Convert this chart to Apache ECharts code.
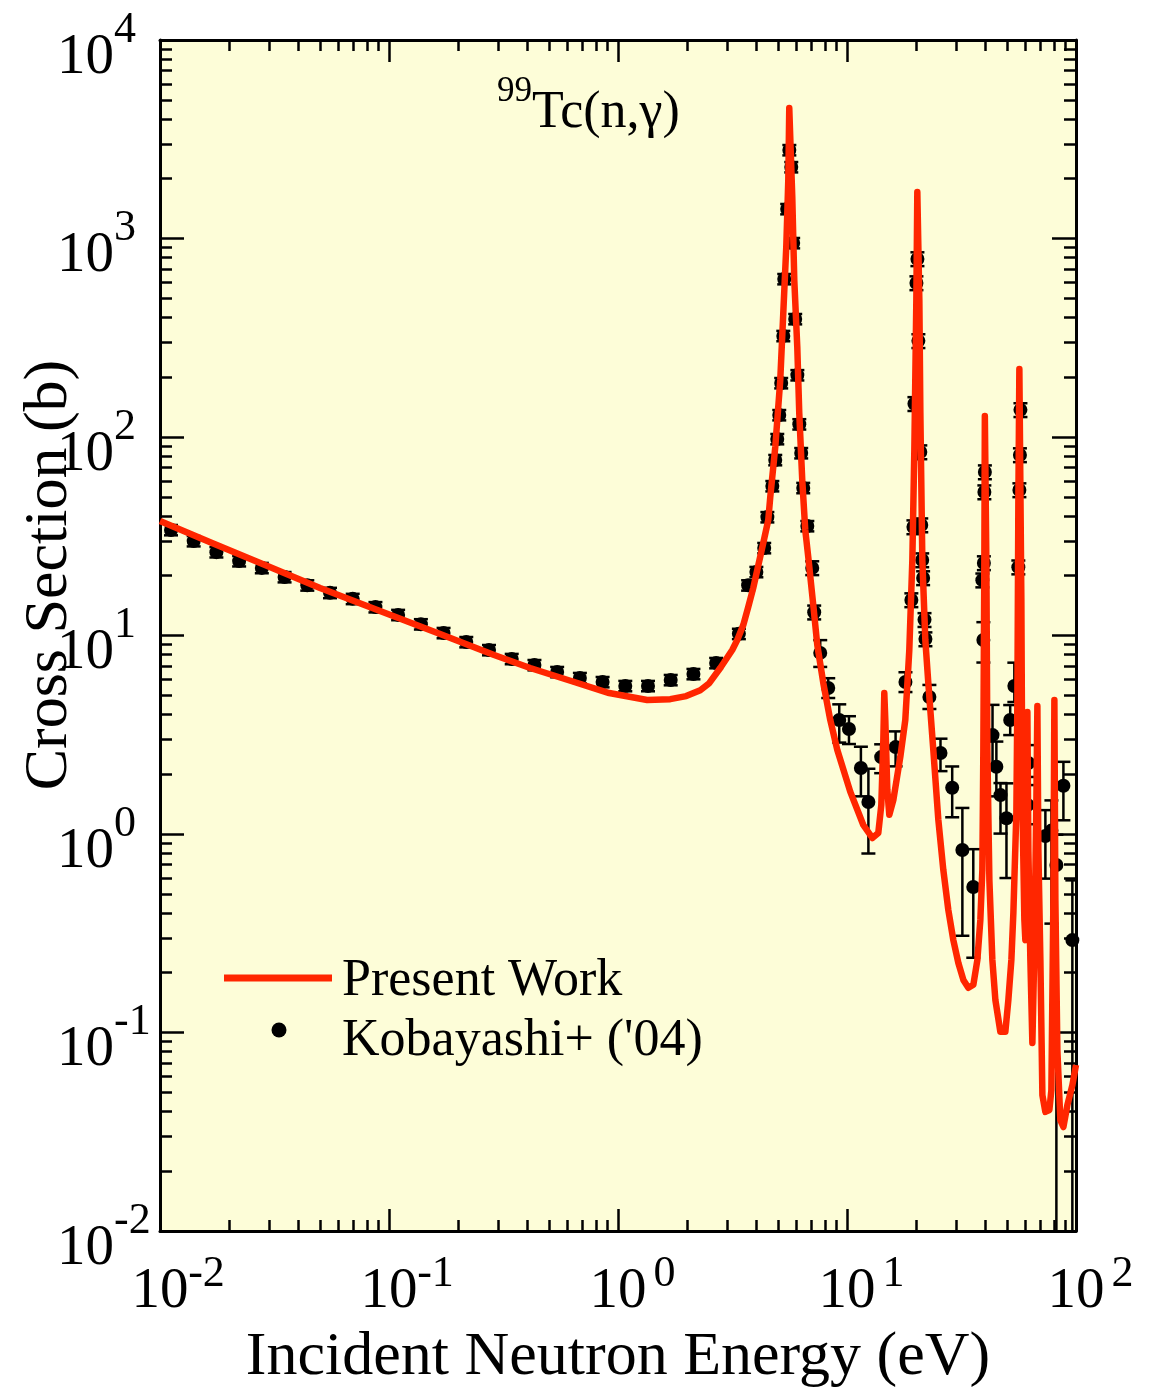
<!DOCTYPE html>
<html><head><meta charset="utf-8">
<script src="https://cdn.jsdelivr.net/npm/echarts@6/dist/echarts.min.js"></script>
<style>html,body{margin:0;padding:0;background:#fff}#c{width:1151px;height:1389px}</style>
</head><body><div id="c"></div>
<script>
const FONT = "'Liberation Serif','Times New Roman',serif";

// Present Work (evaluated curve): energy (eV) and cross section (b)
const lineE = [0.0100,0.01687,0.02875,0.0500,0.0914,0.1672,0.2878,0.4135,0.6245,0.9152,
1.341,1.691,1.986,2.287,2.503,2.796,3.154,3.317,3.524,3.706,
3.896,4.056,4.309,4.531,4.623,4.862,5.112,5.269,5.430,5.541,
5.596,5.653,5.768,5.886,6.066,6.188,6.377,6.573,6.774,7.124,
7.417,7.880,8.453,9.072,10.34,11.78,12.90,13.70,14.12,14.41,
14.55,14.70,15.00,15.30,15.93,17.09,17.97,18.71,19.29,19.68,
20.08,20.28,20.49,20.70,20.91,21.33,21.98,22.65,23.82,25.05,
26.34,27.70,29.13,30.64,32.22,33.88,35.63,37.09,38.22,39.00,
39.39,39.79,39.99,40.39,40.60,41.01,41.85,43.13,44.45,46.74,
49.15,50.66,52.21,53.27,54.90,55.46,56.02,56.58,57.15,57.73,
58.31,59.50,60.10,60.71,61.33,61.94,63.20,64.49,65.80,67.14,
67.82,68.50,69.90,71.32,73.50,76.52,78.07,79.66,80.46,81.28,
82.92,85.44,88.10,91.70,96.45,100];
const lineS = [37.75,29.24,22.66,17.35,13.29,10.18,7.98,6.86,5.90,5.13,
4.73,4.78,4.95,5.30,5.75,6.86,8.45,9.49,11.29,13.92,
17.35,21.38,29.24,38.19,49.86,89.0,193.8,421,906,1971,
4544,4544,1619,618,284,132,60.7,34.0,24.86,14.25,
8.96,5.76,3.75,2.65,1.63,1.11,0.955,1.012,1.40,2.98,
5.13,3.75,1.67,1.25,1.48,2.44,3.75,8.45,24.0,86.0,
490,1715,1715,490,132,24.0,9.49,5.76,2.65,1.18,
0.659,0.414,0.292,0.224,0.184,0.168,0.174,0.232,0.369,0.659,
2.65,24.0,127.6,127.6,24.0,2.65,0.587,0.232,0.146,0.101,
0.101,0.146,0.232,0.400,1.28,4.73,48.2,220,220,15.1,
1.48,0.369,0.292,0.831,4.12,0.831,0.232,0.0886,0.260,1.48,
4.41,0.831,0.232,0.0484,0.0398,0.0407,0.0513,0.465,4.73,0.465,
0.0816,0.0362,0.0334,0.0431,0.0544,0.0686];

// Kobayashi+ ('04): energy (eV), cross section (b), upper / lower error (%)
const expE = [0.01117,0.01403,0.01763,0.02216,0.02784,0.03499,0.04397,0.05525,0.06943,0.08725,
0.1096,0.1378,0.1731,0.2175,0.2734,0.3435,0.4316,0.5424,0.6816,0.8565,
1.076,1.352,1.699,2.135,2.683,3.372,
3.70,4.02,4.35,4.49,4.72,4.86,4.96,5.06,5.16,5.27,
5.32,5.48,5.60,5.71,5.82,5.94,6.07,6.19,6.31,6.44,
6.71,7.05,7.19,7.64,8.28,9.25,10.2,11.5,12.4,14.1,
16.3,18.0,19.1,19.5,19.7,20.1,20.3,20.5,20.9,21.1,
21.3,21.5,21.8,22.0,22.9,25.6,28.8,31.9,35.6,39.0,
39.4,39.6,39.8,40.0,43.2,44.9,46.8,49.7,51.6,53.8,
56.0,56.6,56.9,57.2,61.4,61.9,73.5,78.1,82.1,88.1,
96.4];
const expS = [34.0,29.9,26.3,23.7,21.9,19.7,17.9,16.4,15.3,13.9,
12.7,11.4,10.3,9.27,8.45,7.62,7.10,6.55,6.11,5.83,
5.57,5.57,5.97,6.40,7.27,10.2,
17.9,20.9,27.6,39.5,56.6,76.6,97.7,129,187,323,
625,1408,2790,2290,949,393,205,116,83.0,55.4,
35.6,21.9,13.1,8.17,5.44,3.75,3.38,2.15,1.45,2.44,
2.74,5.83,15.1,35.2,147,597,789,305,84.0,36.0,
24.0,19.5,12.0,9.60,4.90,2.56,1.71,0.830,0.541,19.0,
9.49,23.2,52.8,66.6,3.15,2.18,1.57,1.20,3.75,5.57,
22.1,54.1,81.2,137,1.40,2.28,0.977,1.04,0.698,1.75,
0.292];
const expUp = [6,6,6,6,6,6,6,6,6,6,
6,6,6,6,6,6,6,6,6,6,
6,6,6,6,6,6,
6,6,6,6,6,6,6,6,6,6,
6,6,6,6,6,6,6,6,6,6,
6,8,8,16,12,20,16,28,47,16,
20,12,8,8,8,8,8,8,8,8,
8,8,8,8,15,18,28,63,55,8,
23,8,8,8,42,34,15,50,19,31,
8,8,8,8,26,23,35,42,42,32,
100];
const expDn = [6,6,6,6,6,6,6,6,6,6,
6,6,6,6,6,6,6,6,6,6,
6,6,6,6,6,6,
6,6,6,6,6,6,6,6,6,6,
6,6,6,6,6,6,6,6,6,6,
6,8,8,15,11,23,16,28,45,17,
20,11,8,8,8,8,8,8,8,8,
8,8,8,8,13,19,29,63,56,8,
23,8,8,8,29,29,36,50,16,17,
8,8,8,8,20,15,39,66,100,33,
100];

// Tick values and labels
const xMajor = [0.01,0.1,1,10,100];
const xMajorExp = ['-2','-1','0','1','2'];
const xMinor = [0.02,0.03,0.04,0.05,0.06,0.07,0.08,0.09,
0.2,0.3,0.4,0.5,0.6,0.7,0.8,0.9,
2,3,4,5,6,7,8,9,
20,30,40,50,60,70,80,90];
const yMajor = [0.01,0.1,1,10,100,1000,10000];
const yMajorExp = ['-2','-1','0','1','2','3','4'];
const yMinor = [0.02,0.03,0.04,0.05,0.06,0.07,0.08,0.09,
0.2,0.3,0.4,0.5,0.6,0.7,0.8,0.9,
2,3,4,5,6,7,8,9,
20,30,40,50,60,70,80,90,
200,300,400,500,600,700,800,900,
2000,3000,4000,5000,6000,7000,8000,9000];

function expOf(list, exps, v) {
  for (let i = 0; i < list.length; i++) {
    if (Math.abs(list[i] - v) / list[i] < 1e-6) return exps[i];
  }
  return '';
}

const RED = '#ff2600';
const tickStyle = {color: '#000', width: 2.5};

function axisCommon(extra) {
  return Object.assign({
    type: 'log', logBase: 10,
    splitLine: {show: false}, minorTick: {show: false}, minorSplitLine: {show: false},
    axisPointer: {show: false}
  }, extra);
}

const xAxes = [
  axisCommon({min: 0.01, max: 100, position: 'bottom',
    axisLine: {show: true, lineStyle: {color: '#000', width: 3}},
    axisTick: {show: true, inside: true, length: 22, lineStyle: tickStyle, customValues: xMajor},
    axisLabel: {show: true, customValues: xMajor, margin: 33, color: '#000',
      formatter: v => '{b|10}{s|' + expOf(xMajor, xMajorExp, v) + '}',
      rich: {
        b: {fontFamily: FONT, fontSize: 57, lineHeight: 57, color: '#000', verticalAlign: 'middle', padding: [0, 0, 0, 36]},
        s: {fontFamily: FONT, fontSize: 44, lineHeight: 44, color: '#000', width: 36, align: 'left', verticalAlign: 'middle', padding: [0, 0, 36, 0]}
      }}}),
  axisCommon({min: 0.01, max: 100, position: 'bottom',
    axisLine: {show: false},
    axisTick: {show: true, inside: true, length: 11, lineStyle: tickStyle, customValues: xMinor},
    axisLabel: {show: false}}),
  axisCommon({min: 0.01, max: 100, position: 'top',
    axisLine: {show: true, lineStyle: {color: '#000', width: 3}},
    axisTick: {show: true, inside: true, length: 22, lineStyle: tickStyle, customValues: xMajor},
    axisLabel: {show: false}}),
  axisCommon({min: 0.01, max: 100, position: 'top',
    axisLine: {show: false},
    axisTick: {show: true, inside: true, length: 11, lineStyle: tickStyle, customValues: xMinor},
    axisLabel: {show: false}})
];

const yAxes = [
  axisCommon({min: 0.01, max: 10000, position: 'left',
    axisLine: {show: true, lineStyle: {color: '#000', width: 3}},
    axisTick: {show: true, inside: true, length: 24, lineStyle: tickStyle, customValues: yMajor},
    axisLabel: {show: true, customValues: yMajor, margin: 103, align: 'left', color: '#000',
      formatter: v => '{b|10}{s|' + expOf(yMajor, yMajorExp, v) + '}',
      rich: {
        b: {fontFamily: FONT, fontSize: 57, lineHeight: 57, color: '#000', verticalAlign: 'middle', padding: [36, 0, 0, 0]},
        s: {fontFamily: FONT, fontSize: 44, lineHeight: 44, color: '#000', verticalAlign: 'middle', padding: [0, 0, 20, 0]}
      }}}),
  axisCommon({min: 0.01, max: 10000, position: 'left',
    axisLine: {show: false},
    axisTick: {show: true, inside: true, length: 12, lineStyle: tickStyle, customValues: yMinor},
    axisLabel: {show: false}}),
  axisCommon({min: 0.01, max: 10000, position: 'right',
    axisLine: {show: true, lineStyle: {color: '#000', width: 3}},
    axisTick: {show: true, inside: true, length: 24, lineStyle: tickStyle, customValues: yMajor},
    axisLabel: {show: false}}),
  axisCommon({min: 0.01, max: 10000, position: 'right',
    axisLine: {show: false},
    axisTick: {show: true, inside: true, length: 12, lineStyle: tickStyle, customValues: yMinor},
    axisLabel: {show: false}})
];

const lineData = lineE.map((e, i) => [e, lineS[i]]);
const expData = expE.map((e, i) => [e, expS[i]]);
const errData = expE.map((e, i) => [
  e,
  Math.max(expS[i] * (1 - expDn[i] / 100), 0.004),
  expS[i] * (1 + expUp[i] / 100)
]);

const chart = echarts.init(document.getElementById('c'), null, {renderer: 'canvas', width: 1151, height: 1389});
chart.setOption({
  animation: false,
  backgroundColor: '#ffffff',
  grid: {left: 160, top: 40, width: 916, height: 1191, show: true, backgroundColor: '#fdfdd8', borderWidth: 0, containLabel: false, outerBoundsMode: 'none'},
  xAxis: xAxes,
  yAxis: yAxes,
  series: [
    {
      name: 'errors', type: 'custom', xAxisIndex: 0, yAxisIndex: 0, clip: true, z: 2,
      data: errData,
      encode: {x: 0, y: [1, 2]},
      renderItem: function (params, api) {
        const x = api.value(0), lo = api.value(1), hi = api.value(2);
        const p1 = api.coord([x, lo]);
        const p2 = api.coord([x, hi]);
        const w = 7;
        const st = {stroke: '#000', lineWidth: 2.5};
        return {type: 'group', children: [
          {type: 'line', shape: {x1: p1[0], y1: p1[1], x2: p2[0], y2: p2[1]}, style: st},
          {type: 'line', shape: {x1: p1[0] - w, y1: p1[1], x2: p1[0] + w, y2: p1[1]}, style: st},
          {type: 'line', shape: {x1: p2[0] - w, y1: p2[1], x2: p2[0] + w, y2: p2[1]}, style: st}
        ]};
      }
    },
    {
      name: "Kobayashi+ ('04)", type: 'scatter', xAxisIndex: 0, yAxisIndex: 0, z: 3,
      data: expData, symbol: 'circle', symbolSize: 14,
      itemStyle: {color: '#000', opacity: 1}
    },
    {
      name: 'Present Work', type: 'line', xAxisIndex: 0, yAxisIndex: 0, z: 4,
      data: lineData, showSymbol: false, symbol: 'none', clip: true,
      lineStyle: {color: RED, width: 6.5, join: 'round'}
    }
  ],
  graphic: [
    {type: 'text', x: 497, y: 113, z: 100, style: {
      text: '{s|99}{m|Tc(n,γ)}', align: 'left', verticalAlign: 'middle',
      rich: {
        s: {fontFamily: FONT, fontSize: 35, lineHeight: 35, fill: '#000', verticalAlign: 'middle', padding: [0, 0, 42, 0]},
        m: {fontFamily: FONT, fontSize: 52, lineHeight: 52, fill: '#000', verticalAlign: 'middle'}
      }}},
    {type: 'text', x: 618, y: 1358, z: 100, style: {
      text: 'Incident Neutron Energy (eV)', fontFamily: FONT, fontSize: 62, fill: '#000',
      align: 'center', verticalAlign: 'middle'}},
    {type: 'text', x: 50, y: 575, rotation: Math.PI / 2, z: 100, style: {
      text: 'Cross Section (b)', fontFamily: FONT, fontSize: 62, fill: '#000',
      align: 'center', verticalAlign: 'middle'}},
    {type: 'line', z: 100, shape: {x1: 224, y1: 978, x2: 332, y2: 978}, style: {stroke: RED, lineWidth: 7}},
    {type: 'text', x: 342, y: 981, z: 100, style: {
      text: 'Present Work', fontFamily: FONT, fontSize: 52, fill: '#000', align: 'left', verticalAlign: 'middle'}},
    {type: 'circle', z: 100, shape: {cx: 279, cy: 1030, r: 7.5}, style: {fill: '#000'}},
    {type: 'text', x: 342, y: 1041, z: 100, style: {
      text: "Kobayashi+ ('04)", fontFamily: FONT, fontSize: 52, fill: '#000', align: 'left', verticalAlign: 'middle'}}
  ]
});
</script>
</body></html>
